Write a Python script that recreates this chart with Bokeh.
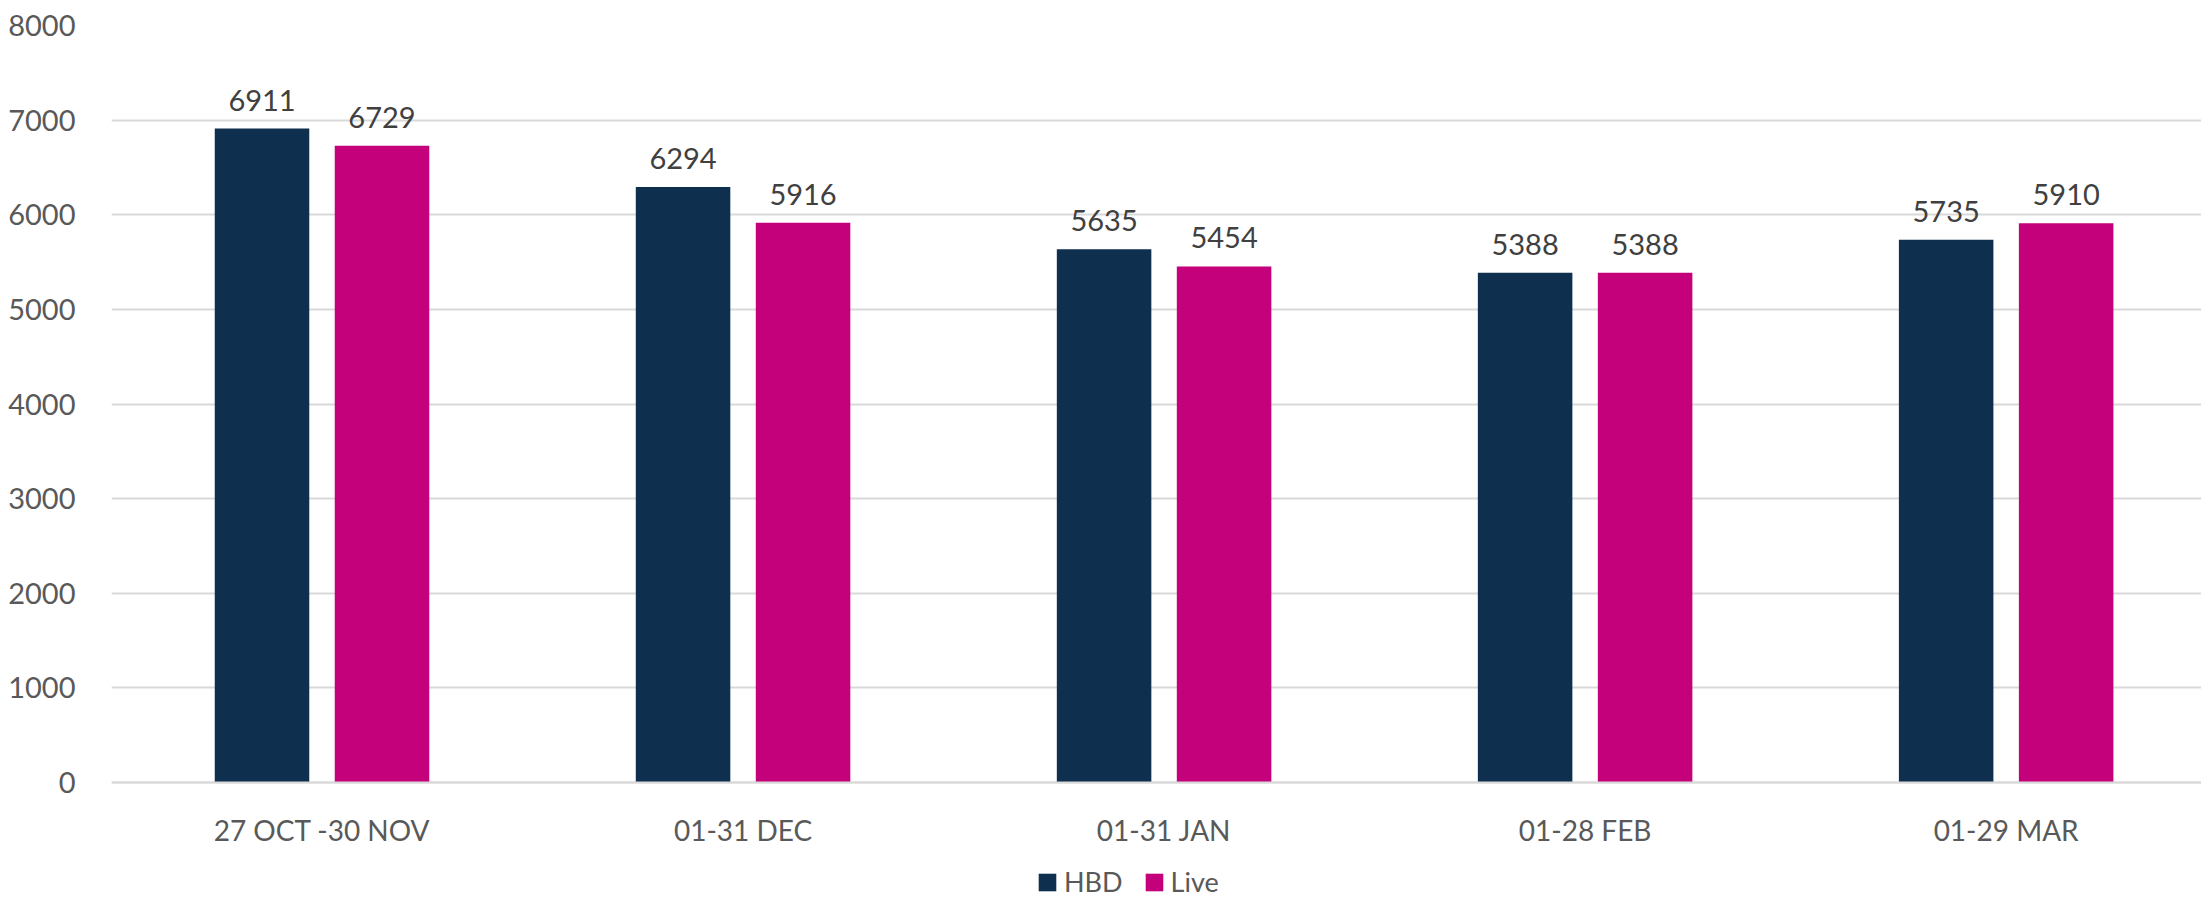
from bokeh.plotting import figure
from bokeh.models import ColumnDataSource, Range1d, FixedTicker, Legend, LegendItem, NumeralTickFormatter
from bokeh.transform import dodge
from bokeh.core.properties import value
from bokeh.embed import file_html
from bokeh.resources import INLINE

categories = ["27 OCT -30 NOV", "01-31 DEC", "01-31 JAN", "01-28 FEB", "01-29 MAR"]
hbd = [6911, 6294, 5635, 5388, 5735]
live = [6729, 5916, 5454, 5388, 5910]
y_ticks = [0, 1000, 2000, 3000, 4000, 5000, 6000, 7000, 8000]

FONT = "Lato"
TXT = "#595959"
NAVY = "#0F2F4E"
MAGENTA = "#C4007A"

pos = list(range(len(categories)))
src = ColumnDataSource(dict(
    x=pos, hbd=hbd, live=live,
    hbd_lbl=[str(v) for v in hbd], live_lbl=[str(v) for v in live],
))

# frame spans to the bottom of the canvas so the legend below the axis is not clipped
p = figure(width=2201, height=900, output_backend="svg", toolbar_location=None,
           x_range=Range1d(-0.5, 4.464), y_range=Range1d(-1247, 8000),
           min_border_left=111, min_border_right=0, min_border_top=25, min_border_bottom=0)
p.outline_line_color = None
p.background_fill_color = "white"
p.border_fill_color = "white"

off = 0.1425
bw = 0.2245
r1 = p.vbar(x=dodge("x", -off, range=p.x_range), top="hbd", bottom=0, width=bw, source=src,
            fill_color=NAVY, line_color=None)
r2 = p.vbar(x=dodge("x", off, range=p.x_range), top="live", bottom=0, width=bw, source=src,
            fill_color=MAGENTA, line_color=None)

for fld, yf, d in (("hbd_lbl", "hbd", -off), ("live_lbl", "live", off)):
    p.text(x=dodge("x", d, range=p.x_range), y=yf, text=fld, source=src,
           text_font=value(FONT), text_font_size="29px", text_color="#404040",
           text_align="center", text_baseline="bottom", y_offset=-18)

# axes
p.xaxis.fixed_location = 0
p.xaxis.ticker = FixedTicker(ticks=pos)
p.xaxis.major_label_overrides = {i: c for i, c in enumerate(categories)}
p.xaxis.major_tick_line_color = None
p.xaxis.minor_tick_line_color = None
p.xaxis.axis_line_color = "#D9D9D9"
p.xaxis.axis_line_width = 2
p.xaxis.major_label_text_font = FONT
p.xaxis.major_label_text_font_size = "28px"
p.xaxis.major_label_text_color = TXT
p.xaxis.major_label_standoff = 24

p.yaxis.ticker = FixedTicker(ticks=y_ticks)
p.yaxis.formatter = NumeralTickFormatter(format="0")
p.yaxis.axis_line_color = None
p.yaxis.major_tick_line_color = None
p.yaxis.minor_tick_line_color = None
p.yaxis.major_label_text_font = FONT
p.yaxis.major_label_text_font_size = "29px"
p.yaxis.major_label_text_color = TXT
p.yaxis.major_label_standoff = 30

p.xgrid.grid_line_color = None
p.ygrid.ticker = FixedTicker(ticks=y_ticks)
p.ygrid.grid_line_color = "#D9D9D9"
p.ygrid.grid_line_width = 2

legend = Legend(items=[LegendItem(label="HBD", renderers=[r1]),
                       LegendItem(label="Live", renderers=[r2])],
                location=(925, 2), orientation="horizontal",
                label_text_font=FONT, label_text_font_size="27px", label_text_color=TXT,
                glyph_width=22, glyph_height=22, label_standoff=6, spacing=20,
                padding=0, margin=0, border_line_color=None, background_fill_alpha=0)
p.add_layout(legend, "center")

open("out.html", "w").write(file_html(p, INLINE))
